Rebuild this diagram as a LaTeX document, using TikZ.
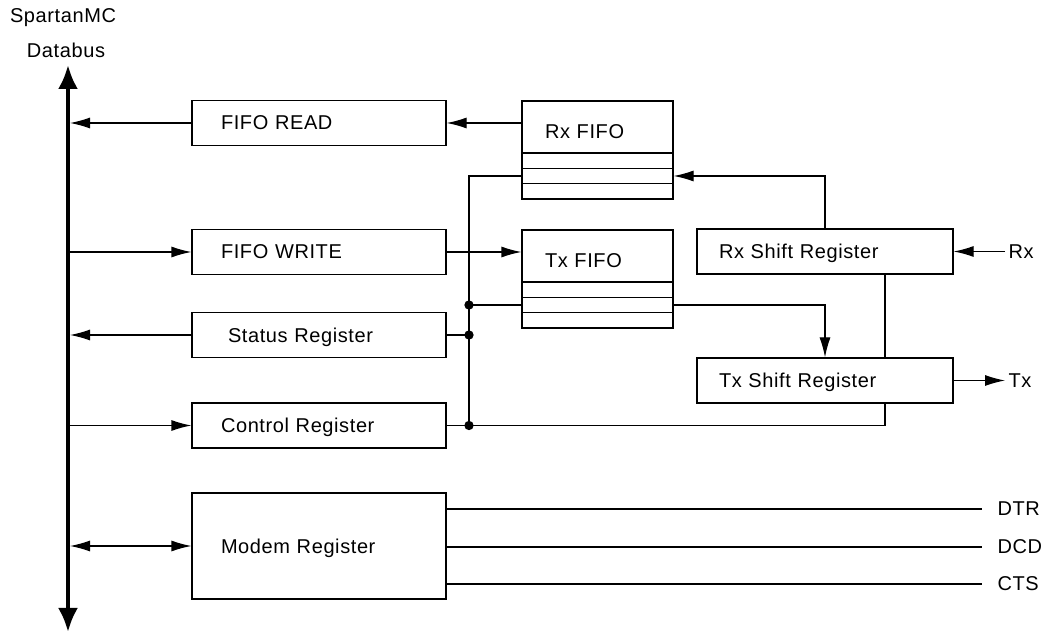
\documentclass[tikz,border=0pt]{standalone}
\usepackage{fontspec}
\setmainfont{Liberation Sans}[LetterSpace=3]
\usetikzlibrary{arrows.meta}

\begin{document}
\begin{tikzpicture}[>={Latex[length=20bp,width=11bp]},line width=1.2bp,
  font=\fontsize{20bp}{23bp}\selectfont,
  reg/.style={draw,rectangle,minimum width=254bp,minimum height=45bp,inner xsep=29bp,text width=196bp,align=left,text depth=0bp},
  shreg/.style={draw,rectangle,minimum width=256bp,minimum height=45bp,inner xsep=22bp,text width=212bp,align=left,text depth=0bp},
  fifo/.style={draw,rectangle,minimum width=151bp,minimum height=52bp,inner xsep=23bp,text width=105bp,align=left,text height=24bp,text depth=0bp},
  slot/.style={draw,rectangle,minimum width=151bp,minimum height=15.33bp,inner sep=0pt},
  dot/.style={draw,circle,fill,inner sep=0pt,minimum size=8bp},
  pin/.style={anchor=west,inner xsep=3bp},
  sig/.style={anchor=west,inner xsep=15bp},
  bus/.style={line width=4bp,{Latex[length=24bp,width=20bp]}-{Latex[length=24bp,width=20bp]}}]
  \useasboundingbox (0bp,0bp) rectangle (1043bp,633bp);
  % databus
  \node (BusName) at (63bp,615bp) {SpartanMC};
  \node (BusLabel) at (66bp,583bp) {Databus};
  \coordinate (BusTop) at (68bp,568bp);
  \coordinate (BusBottom) at (68bp,1bp);
  % registers on the bus
  \node (FifoRead) at (319bp,510bp) [reg] {FIFO READ};
  \node (FifoWrite) at (319bp,381bp) [reg] {FIFO WRITE};
  \node (StatusReg) at (319bp,298bp) [reg] {\hspace*{7bp}Status Register};
  \node (ControlReg) at (319bp,207.5bp) [reg] {Control Register};
  \node (ModemReg) at (319bp,87bp) [reg,minimum height=106bp] {Modem Register};
  % fifos
  \node (RxFifo) at (597.5bp,506bp) [fifo] {Rx FIFO};
  \node (RxSlotA) at (597.5bp,472.33bp) [slot] {};
  \node (RxSlotB) at (597.5bp,457bp) [slot] {};
  \node (RxSlotC) at (597.5bp,441.67bp) [slot] {};
  \node (TxFifo) at (597.5bp,377bp) [fifo] {Tx FIFO};
  \node (TxSlotA) at (597.5bp,343.33bp) [slot] {};
  \node (TxSlotB) at (597.5bp,328bp) [slot] {};
  \node (TxSlotC) at (597.5bp,312.67bp) [slot] {};
  % shift registers
  \node (RxShift) at (825bp,381.5bp) [shreg] {Rx Shift Register};
  \node (TxShift) at (825bp,252.5bp) [shreg] {Tx Shift Register};
  \node (Rx) at (1005bp,381.5bp) [pin] {Rx};
  \node (Tx) at (1005bp,252.5bp) [pin] {Tx};
  \node (DTR) at (982bp,124bp) [sig] {DTR};
  \node (DCD) at (982bp,86bp) [sig] {DCD};
  \node (CTS) at (982bp,49bp) [sig] {CTS};
  % junctions
  \node (JoinTx) at (469bp,328bp) [dot] {};
  \node (JoinStatus) at (469bp,298bp) [dot] {};
  \node (JoinControl) at (469bp,207.5bp) [dot] {};
  % connections
  \draw [bus] (BusBottom) -- (BusTop);
  \draw [->,shorten >=2bp] (FifoRead.west) -- (FifoRead.west -| BusTop);
  \draw [->] (FifoWrite.west -| BusTop) -- (FifoWrite.west);
  \draw [->,shorten >=2bp] (StatusReg.west) -- (StatusReg.west -| BusTop);
  \draw [->] (ControlReg.west -| BusTop) -- (ControlReg.west);
  \draw [<->,shorten <=2bp] (ModemReg.west -| BusTop) -- (ModemReg.west);
  \draw [->] (RxFifo.west |- FifoRead) -- (FifoRead.east);
  \draw [->] (FifoWrite.east) -- (FifoWrite.east -| TxFifo.west);
  \draw (RxSlotB.west) -| (JoinControl.center);
  \draw (JoinTx.center) -- (TxSlotB.west);
  \draw [->] (TxSlotB.east) -| (TxShift.north);
  \draw (StatusReg.east) -- (JoinStatus.center);
  \draw (ControlReg.east) -- (JoinControl.center) -| ([xshift=60bp]TxShift.south);
  \draw ([xshift=60bp]RxShift.south) -- ([xshift=60bp]TxShift.north);
  \draw [->] (RxShift.north) |- (RxSlotB.east);
  \draw [->] (Rx.west) -- (RxShift.east);
  \draw [->] (TxShift.east) -- (Tx.west);
  \draw (ModemReg.east |- DTR) -- (DTR.west);
  \draw (ModemReg.east |- DCD) -- (DCD.west);
  \draw (ModemReg.east |- CTS) -- (CTS.west);
\end{tikzpicture}
\end{document}
